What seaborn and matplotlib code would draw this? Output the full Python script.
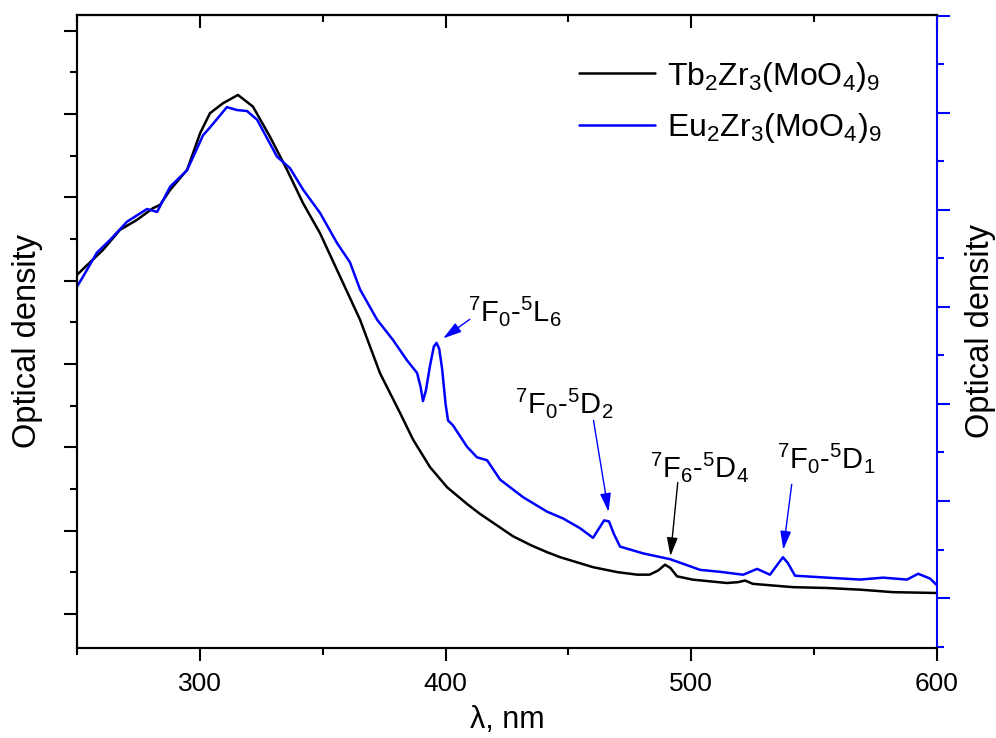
import matplotlib
matplotlib.use('Agg')
import matplotlib.pyplot as plt
import seaborn as sns
from matplotlib.lines import Line2D
from matplotlib.ticker import MultipleLocator

# Tb2Zr3(MoO4)9 absorption (left axis, arb. units)
wl_tb = [250.0, 260.6, 267.5, 274.4, 280.9, 283.8, 287.9, 294.8, 300.1, 304.1,
         309.4, 315.5, 321.6, 328.5, 335.5, 342.0, 348.9, 355.8, 365.2, 373.3,
         381.5, 386.8, 393.7, 400.6, 408.7, 414.0, 420.0, 427.5, 435.0, 441.3,
         446.6, 460.0, 470.0, 478.0, 483.0, 486.5, 489.3, 491.5, 494.2, 500.7,
         514.5, 519.0, 521.9, 525.0, 541.4, 555.2, 568.7, 582.1, 600.0]
od_tb = [0.407, 0.437, 0.461, 0.473, 0.487, 0.491, 0.509, 0.533, 0.577, 0.601,
         0.613, 0.623, 0.609, 0.573, 0.533, 0.493, 0.457, 0.413, 0.353, 0.289,
         0.241, 0.209, 0.176, 0.152, 0.132, 0.120, 0.108, 0.093, 0.082, 0.074,
         0.068, 0.056, 0.050, 0.047, 0.047, 0.052, 0.059, 0.055, 0.045, 0.041,
         0.037, 0.038, 0.040, 0.036, 0.032, 0.031, 0.029, 0.026, 0.025]

# Eu2Zr3(MoO4)9 absorption (right axis, arb. units)
wl_eu = [250.0, 252.4, 258.1, 263.4, 270.4, 278.5, 282.6, 287.9, 294.8, 301.3,
         304.1, 311.0, 315.1, 319.2, 323.3, 331.4, 336.7, 342.0, 348.9, 355.8,
         361.1, 365.2, 372.1, 378.6, 384.3, 388.4, 389.8, 390.8, 392.0, 393.7,
         395.2, 396.3, 397.4, 398.6, 400.0, 401.0, 403.0, 408.7, 412.8, 416.9,
         422.2, 431.5, 441.3, 447.8, 454.7, 460.0, 462.5, 464.5, 466.5, 468.5,
         471.0, 480.4, 491.4, 503.6, 511.7, 521.1, 526.8, 532.0, 535.5, 537.3,
         539.3, 542.2, 555.2, 568.7, 578.0, 587.8, 592.3, 597.2, 600.0]
od_eu = [0.321, 0.331, 0.356, 0.369, 0.388, 0.401, 0.398, 0.424, 0.441, 0.477,
         0.485, 0.506, 0.503, 0.502, 0.493, 0.455, 0.443, 0.421, 0.397, 0.366,
         0.346, 0.318, 0.287, 0.266, 0.245, 0.232, 0.218, 0.203, 0.214, 0.240,
         0.259, 0.263, 0.257, 0.236, 0.200, 0.183, 0.178, 0.156, 0.145, 0.142,
         0.122, 0.104, 0.089, 0.082, 0.072, 0.062, 0.072, 0.080, 0.079, 0.066,
         0.053, 0.046, 0.040, 0.029, 0.027, 0.024, 0.030, 0.024, 0.036, 0.042,
         0.036, 0.023, 0.021, 0.019, 0.021, 0.019, 0.025, 0.020, 0.013]

labels = [r'Tb$_2$Zr$_3$(MoO$_4$)$_9$', r'Eu$_2$Zr$_3$(MoO$_4$)$_9$']

sns.set_style('ticks')
plt.rcParams['font.family'] = ['Liberation Sans', 'DejaVu Sans']
plt.rcParams['mathtext.fontset'] = 'custom'
plt.rcParams['mathtext.rm'] = 'Liberation Sans'
plt.rcParams['mathtext.it'] = 'Liberation Sans:italic'
plt.rcParams['mathtext.default'] = 'regular'
plt.rcParams['text.color'] = 'black'
plt.rcParams['axes.labelcolor'] = 'black'
plt.rcParams['axes.edgecolor'] = 'black'
plt.rcParams['xtick.color'] = 'black'
plt.rcParams['ytick.color'] = 'black'

fig = plt.figure(figsize=(9.96, 7.38), dpi=100)
ax = fig.add_axes([0.0773, 0.122, 0.8635, 0.8577])
ax2 = ax.twinx()

sns.lineplot(x=wl_tb, y=od_tb, ax=ax, color='black', lw=1.8, estimator=None, sort=False)
sns.lineplot(x=wl_eu, y=od_eu, ax=ax2, color='blue', lw=1.8, estimator=None, sort=False)

ax.set_xlim(250, 600)
ax.set_ylim(-0.041, 0.719)
ax2.set_ylim(-0.0515, 0.601)

lw_ax = 1.5
for s in ax.spines.values():
    s.set_linewidth(lw_ax)
ax.spines['right'].set_visible(False)
for s in ax2.spines.values():
    s.set_linewidth(lw_ax)
ax2.spines['right'].set_color('blue')

ax.xaxis.set_major_locator(MultipleLocator(100))
ax.xaxis.set_minor_locator(MultipleLocator(50))
ax.yaxis.set_major_locator(MultipleLocator(0.1))
ax.yaxis.set_minor_locator(MultipleLocator(0.05))
ax2.yaxis.set_major_locator(MultipleLocator(0.1))
ax2.yaxis.set_minor_locator(MultipleLocator(0.05))

ax.tick_params(axis='both', which='major', length=9.5, width=1.5, direction='out', colors='black')
ax.tick_params(axis='both', which='minor', length=5, width=1.5, direction='out', colors='black')
ax.tick_params(axis='y', labelleft=False)
ax.tick_params(axis='x', labelsize=19, pad=8)
ax2.tick_params(axis='y', which='major', length=9.5, width=1.5, colors='blue', labelright=False)
ax2.tick_params(axis='y', which='minor', length=5, width=1.5, colors='blue')

top = ax.secondary_xaxis('top')
top.xaxis.set_major_locator(MultipleLocator(100))
top.xaxis.set_minor_locator(MultipleLocator(50))
top.tick_params(which='major', direction='in', length=9.5, width=1.5, labeltop=False, colors='black')
top.tick_params(which='minor', direction='in', length=5, width=1.5, colors='black')
top.spines['top'].set_linewidth(lw_ax)

ax.set_xlabel('λ, nm', fontsize=22)
ax.xaxis.set_label_coords(0.5, -0.09)
ax.set_ylabel('Optical density', fontsize=23.5)
ax.yaxis.set_label_coords(-0.04, 0.485)
ax2.set_ylabel('Optical density', fontsize=23.5, rotation=90)
ax2.yaxis.set_label_coords(1.033, 0.5)

handles = [Line2D([], [], color='black', lw=1.8), Line2D([], [], color='blue', lw=1.8)]
ax2.legend(handles, labels, loc='upper left', bbox_to_anchor=(0.55, 0.975), frameon=False,
           fontsize=23, handlelength=2.4, handletextpad=0.35, labelspacing=0.55)

fs_ann = 21
arrow_kw = dict(arrowstyle='-|>,head_length=0.75,head_width=0.22', lw=1, mutation_scale=15)

ax2.text(409.1, 0.285, r'$^7$F$_0$-$^5$L$_6$', fontsize=fs_ann, ha='left', va='baseline')
ax2.annotate('', xy=(398.1, 0.266), xytext=(410.8, 0.289),
             arrowprops=dict(color='blue', **arrow_kw))

ax2.text(428.3, 0.191, r'$^7$F$_0$-$^5$D$_2$', fontsize=fs_ann, ha='left', va='baseline')
ax2.annotate('', xy=(466.5, 0.086), xytext=(460.0, 0.186),
             arrowprops=dict(color='blue', **arrow_kw))

ax.text(483.2, 0.164, r'$^7$F$_6$-$^5$D$_4$', fontsize=fs_ann, ha='left', va='baseline')
ax.annotate('', xy=(491.4, 0.066), xytext=(494.6, 0.161),
            arrowprops=dict(color='black', **arrow_kw))

ax2.text(534.9, 0.134, r'$^7$F$_0$-$^5$D$_1$', fontsize=fs_ann, ha='left', va='baseline')
ax2.annotate('', xy=(537.3, 0.047), xytext=(541.0, 0.120),
             arrowprops=dict(color='blue', **arrow_kw))

fig.savefig('out.png', dpi=100)
